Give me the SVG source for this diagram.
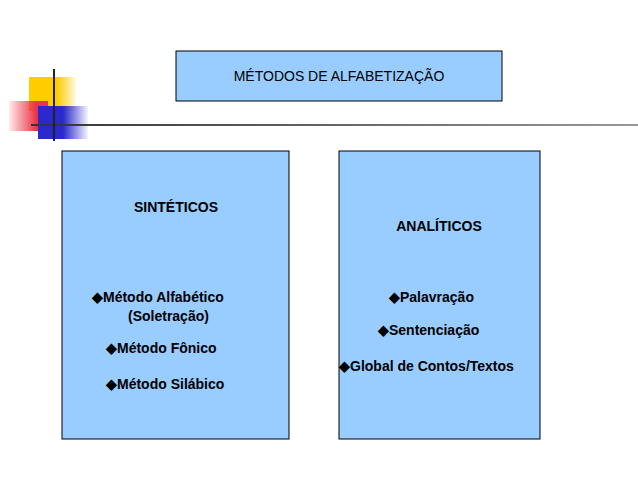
<svg xmlns="http://www.w3.org/2000/svg" width="638" height="479" viewBox="0 0 638 479">
<style>
.b{fill:#99ccff;stroke:#000;stroke-width:1}
text{font-family:"Liberation Sans",Arial,sans-serif;font-size:14px;fill:#000}
.h{font-weight:bold}
</style>
<defs>
<linearGradient id="gy" x1="0" x2="1"><stop offset="0.6" stop-color="#ffcc00"/><stop offset="1" stop-color="#ffcc00" stop-opacity="0.1"/></linearGradient>
<linearGradient id="gr" x1="1" x2="0"><stop offset="0.3" stop-color="#ee3344"/><stop offset="1" stop-color="#ee3344" stop-opacity="0.1"/></linearGradient>
<linearGradient id="gb" x1="0" x2="1"><stop offset="0.5" stop-color="#2a2acc"/><stop offset="1" stop-color="#2a2acc" stop-opacity="0.05"/></linearGradient>
<linearGradient id="gl" x1="0" x2="1"><stop offset="0" stop-color="#333"/><stop offset="1" stop-color="#999"/></linearGradient>
</defs>
<g id="deco">
<rect x="29" y="77" width="47" height="34" fill="url(#gy)"/>
<rect x="9" y="101" width="39" height="30" fill="url(#gr)"/>
<rect x="38" y="106" width="50" height="33" fill="url(#gb)"/>
<rect x="31" y="124" width="607" height="2" fill="url(#gl)"/>
<rect x="53" y="69" width="2" height="72" fill="#222"/>
</g>
<g id="title"><rect class="b" x="176" y="51" width="326" height="50"/><text x="339" y="81" text-anchor="middle">MÉTODOS DE ALFABETIZAÇÃO</text></g>
<g id="sinteticos"><rect class="b" x="62" y="151" width="227" height="288"/>
<text class="h" x="176" y="212" text-anchor="middle">SINTÉTICOS</text>
<text class="h" x="92" y="302">◆Método Alfabético</text>
<text class="h" x="128" y="321">(Soletração)</text>
<text class="h" x="106" y="353">◆Método Fônico</text>
<text class="h" x="106" y="389">◆Método Silábico</text>
</g>
<g id="analiticos"><rect class="b" x="339" y="151" width="201" height="288"/>
<text class="h" x="439" y="231" text-anchor="middle">ANALÍTICOS</text>
<text class="h" x="389" y="302">◆Palavração</text>
<text class="h" x="378" y="335">◆Sentenciação</text>
<text class="h" x="339" y="371">◆Global de Contos/Textos</text>
</g>
<g id="connectors"></g>
</svg>
